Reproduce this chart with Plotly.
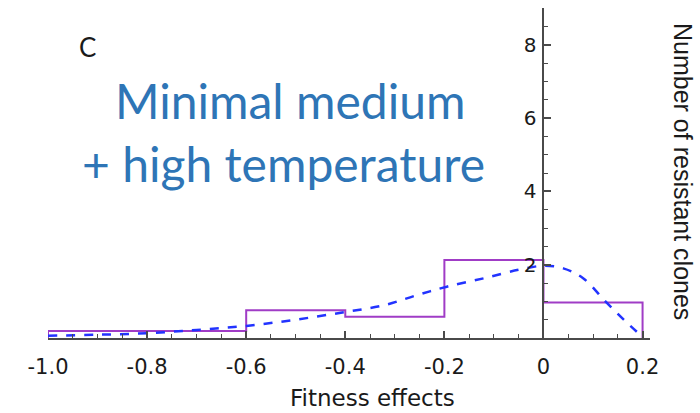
import plotly.graph_objects as go

# Histogram bins (fitness effects) and heights
bin_edges = [-1.0, -0.6, -0.4, -0.2, 0.0, 0.2]
bin_heights = [0.19, 0.76, 0.58, 2.13, 0.97]

# Fitted density curve
curve_x = [-1.0, -0.9, -0.8, -0.7, -0.6, -0.5, -0.4, -0.32, -0.255, -0.195,
           -0.12, -0.05, 0.0, 0.04, 0.08, 0.125, 0.162, 0.2]
curve_y = [0.06, 0.09, 0.13, 0.22, 0.33, 0.5, 0.71, 0.9, 1.17, 1.4,
           1.63, 1.86, 1.97, 1.9, 1.63, 1.0, 0.5, 0.03]

x_tickvals = [-1.0, -0.8, -0.6, -0.4, -0.2, 0.0, 0.2]
x_ticktext = ["-1.0", "-0.8", "-0.6", "-0.4", "-0.2", "0", "0.2"]
y_tickvals = [2, 4, 6, 8]
y_ticktext = ["2", "4", "6", "8"]

x_range = [-1.0, 0.215]
y_range = [0, 9]

hist_x = [bin_edges[0]] + bin_edges
hist_y = [0] + bin_heights + [0]

fig = go.Figure()
fig.add_trace(go.Scatter(x=hist_x, y=hist_y, mode="lines",
                         line=dict(color="#A03CC6", width=2, shape="hv"),
                         showlegend=False, hoverinfo="skip"))
fig.add_trace(go.Scatter(x=curve_x, y=curve_y, mode="lines",
                         line=dict(color="#2233FF", width=2.5, dash="dash", shape="spline"),
                         showlegend=False, hoverinfo="skip"))

axis_color = "#4a4a4a"
ypos = (0 - x_range[0]) / (x_range[1] - x_range[0])

fig.update_layout(
    width=700, height=413,
    margin=dict(l=48, r=50, t=8, b=75),
    paper_bgcolor="white", plot_bgcolor="white",
    xaxis=dict(range=x_range, showgrid=False, zeroline=False,
               showline=True, linecolor=axis_color, linewidth=2,
               ticks="inside", ticklen=7, tickwidth=1.5, tickcolor=axis_color,
               tickmode="array", tickvals=x_tickvals, ticktext=x_ticktext,
               tickfont=dict(family="DejaVu Sans", size=21, color="#1a1a1a"),
               minor=dict(dtick=0.05, tick0=-1.0, ticks="inside", ticklen=4,
                          tickwidth=1.2, tickcolor=axis_color),
               ticklabelstandoff=9),
    yaxis=dict(range=y_range, showgrid=False, zeroline=False,
               anchor="free", position=ypos,
               showline=True, linecolor=axis_color, linewidth=2,
               ticks="inside", ticklen=7, tickwidth=1.5, tickcolor=axis_color,
               tickmode="array", tickvals=y_tickvals, ticktext=y_ticktext,
               tickfont=dict(family="DejaVu Sans", size=20, color="#1a1a1a"),
               minor=dict(dtick=0.5, tick0=0, ticks="inside", ticklen=4,
                          tickwidth=1.2, tickcolor=axis_color),
               ticklabelstandoff=2),
    annotations=[
        dict(text="Number of resistant clones", textangle=90, x=683, y=171,
             xref="paper", yref="paper", showarrow=False,
             font=dict(family="Liberation Sans", size=25, color="#1a1a1a")),
        dict(text="Fitness effects", x=372, y=398, xref="paper", yref="paper",
             showarrow=False, font=dict(family="DejaVu Sans", size=23, color="#1a1a1a")),
        dict(text="C", x=87, y=47, xref="paper", yref="paper", showarrow=False,
             font=dict(family="Lato", size=26, color="#1a1a1a")),
        dict(text="Minimal medium", x=290, y=101, xref="paper", yref="paper",
             showarrow=False, font=dict(family="Lato", size=48, color="#2E75B6")),
        dict(text="+ high temperature", x=283, y=164, xref="paper", yref="paper",
             showarrow=False, font=dict(family="Lato", size=48, color="#2E75B6")),
    ],
)

# convert pixel positions of annotations to paper coords
pw, ph = 700 - 48 - 50, 413 - 8 - 75
for a in fig.layout.annotations:
    px, py = a.x, a.y
    a.x = (px - 48) / pw
    a.y = 1 - (py - 8) / ph
    a.xanchor = "center"
    a.yanchor = "middle"

fig.write_html("out.html")
